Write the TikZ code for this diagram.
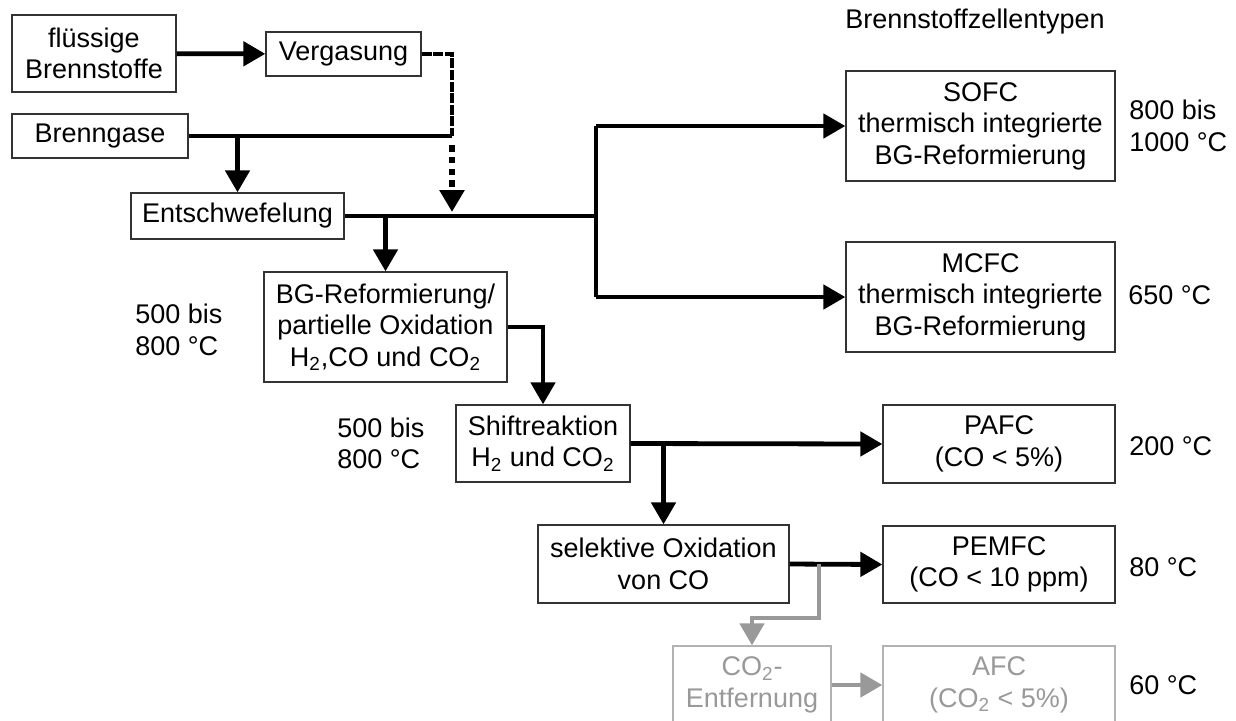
\documentclass[tikz,border=0pt]{standalone}
\usepackage{fontspec}
\setmainfont{Liberation Sans}
\usepackage{tikz}
\usetikzlibrary{arrows.meta}

\begin{document}
\begin{tikzpicture}[x=0.5pt, y=-0.5pt,
    txt/.style={font=\fontsize{13.5}{15.8}\selectfont, inner sep=0pt},
    box/.style={txt, draw=black!80, line width=0.65pt, align=center},
    grbox/.style={box, draw=black!30, text=black!40},
    temp/.style={txt, anchor=west, align=left},
    leitung/.style={line width=2.4pt, line join=miter},
    pfeil/.style={leitung, -{Triangle[length=11pt, width=12pt]}},
    grpfeil/.style={pfeil, draw=black!40},
    punktiert/.style={line width=3.2pt, dash pattern=on 3.3pt off 2.6pt}]
    \useasboundingbox (0,0) rectangle (1236,720);

    \node[box, minimum width=82pt, minimum height=38.5pt] (fluessig) at (94,53.5) {flüssige\\Brennstoffe};
    \node[box, minimum width=77.5pt, minimum height=22pt] (vergasung) at (343.5,54) {Vergasung};
    \node[box, minimum width=88pt, minimum height=22pt] (brenngase) at (100,136) {Brenngase};
    \node[box, minimum width=106.5pt, minimum height=23pt] (entschw) at (237.5,216) {Entschwefelung};
    \node[box, minimum width=121.5pt, minimum height=55pt] (bgref) at (385.5,327) {BG-Reformierung/\\partielle Oxidation\\H\textsubscript{2},CO und CO\textsubscript{2}};
    \node[box, minimum width=87pt, minimum height=38.5pt] (shift) at (543,443.5) {Shiftreaktion\\H\textsubscript{2} und CO\textsubscript{2}};
    \node[box, minimum width=125.5pt, minimum height=39pt] (selox) at (663.5,564) {selektive Oxidation\\von CO};
    \node[grbox, minimum width=79pt, minimum height=39pt] (co2weg) at (752,685) {CO\textsubscript{2}-\\Entfernung};

    \node[txt, anchor=west] (typen) at (845,22) {Brennstoffzellentypen};
    \node[box, minimum width=134.5pt, minimum height=55pt] (sofc) at (980.5,126) {SOFC\\thermisch integrierte\\BG-Reformierung};
    \node[box, minimum width=134.5pt, minimum height=55pt] (mcfc) at (980.5,297) {MCFC\\thermisch integrierte\\BG-Reformierung};
    \node[box, minimum width=116pt, minimum height=39pt] (pafc) at (999,444) {PAFC\\(CO < 5\%)};
    \node[box, minimum width=116pt, minimum height=38.5pt] (pemfc) at (999,564.5) {PEMFC\\(CO < 10 ppm)};
    \node[grbox, minimum width=116pt, minimum height=39pt] (afc) at (999,685) {AFC\\(CO\textsubscript{2} < 5\%)};

    \node[temp] (tsofc) at (1129,126) {800 bis\\1000 °C};
    \node[temp] (tmcfc) at (1128,295) {650 °C};
    \node[temp] (tbg) at (135,330) {500 bis\\800 °C};
    \node[temp] (tshift) at (337,443.5) {500 bis\\800 °C};
    \node[temp] (tpafc) at (1129,446) {200 °C};
    \node[temp] (tpemfc) at (1129,567) {80 °C};
    \node[temp] (tafc) at (1129,685) {60 °C};

    \coordinate (gasknick) at (452,136);
    \coordinate (gasstart) at (452,145);
    \coordinate (gasziel) at (452,212);
    \coordinate (verteil) at (596,216);
    \coordinate (abzw1) at (entschw.north |- brenngase.east);
    \coordinate (abzw2) at (bgref.north |- entschw.east);
    \coordinate (abzw3) at (selox.north |- shift.east);
    \coordinate (abzw4) at (819,564);
    \coordinate (knick4) at (819,618);

    \draw[pfeil] (fluessig) -- (vergasung);
    \draw[leitung, dash pattern=on 5pt off 0.8pt] (vergasung.east) -| (gasknick);
    \draw[pfeil, punktiert] (gasstart) -- (gasziel);
    \draw[leitung] (brenngase.east) -- (gasknick);
    \draw[pfeil] (abzw1) -- (entschw.north);
    \draw[leitung] (entschw.east) -- (verteil);
    \draw[leitung] (sofc.west -| verteil) -- (mcfc.west -| verteil);
    \draw[pfeil] (sofc.west -| verteil) -- (sofc.west);
    \draw[pfeil] (mcfc.west -| verteil) -- (mcfc.west);
    \draw[pfeil] (abzw2) -- (bgref.north);
    \draw[pfeil] (bgref.east) -| (shift.north);
    \draw[pfeil] (shift.east) -- (pafc.west);
    \draw[pfeil] (abzw3) -- (selox.north);
    \draw[pfeil] (selox.east) -- (pemfc.west);
    \draw[grpfeil] (abzw4) -- (knick4) -| (co2weg.north);
    \draw[grpfeil] (co2weg.east) -- (afc.west);
\end{tikzpicture}
\end{document}
